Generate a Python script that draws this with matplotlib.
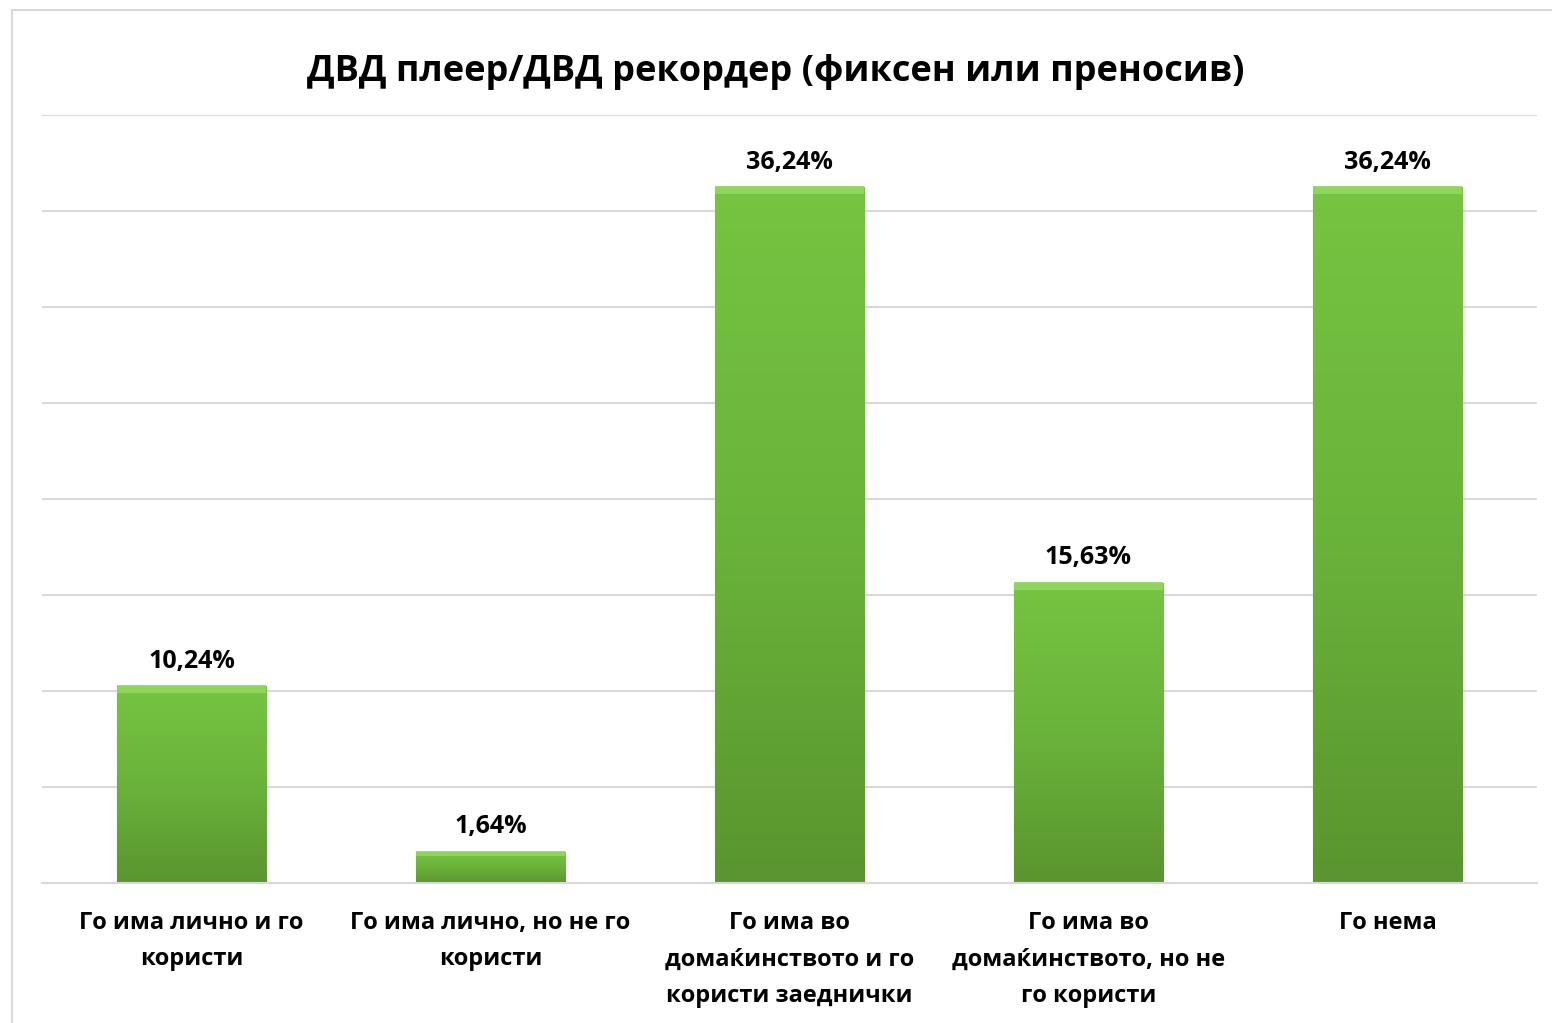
import matplotlib
matplotlib.use("Agg")
import matplotlib.pyplot as plt
import numpy as np
from matplotlib.patches import Rectangle
from matplotlib.lines import Line2D
from matplotlib.colors import LinearSegmentedColormap

plt.rcParams['font.family'] = ['Open Sans', 'DejaVu Sans']

title = "ДВД плеер/ДВД рекордер (фиксен или преносив)"
categories = ["Го има лично и го\nкористи",
              "Го има лично, но не го\nкористи",
              "Го има во\nдомаќинството и го\nкористи заеднички",
              "Го има во\nдомаќинството, но не\nго користи",
              "Го нема"]
values = [10.24, 1.64, 36.24, 15.63, 36.24]
labels = ["10,24%", "1,64%", "36,24%", "15,63%", "36,24%"]

fig = plt.figure(figsize=(15.52, 10.23), dpi=100)
bx, by = 11.5 / 1552, 1 - 9.5 / 1023
fig.lines.append(Line2D([bx, bx], [0, by], transform=fig.transFigure, color='#D9D9D9', linewidth=1.5))
fig.lines.append(Line2D([bx, 1], [by, by], transform=fig.transFigure, color='#D9D9D9', linewidth=1.5))

ax = fig.add_axes([42/1552, 1 - 883/1023, (1537 - 42)/1552, (883 - 115)/1023])
ax.set_ylim(0, 40)
ax.set_xlim(-0.5, len(values) - 0.5)
ax.set_yticks(np.arange(0, 41, 5))
ax.yaxis.grid(True, color='#D9D9D9', linewidth=1.5)
ax.set_axisbelow(True)
ax.tick_params(axis='y', length=0, labelleft=False)
ax.tick_params(axis='x', length=0, pad=20)
for s in ['top', 'right', 'left']:
    ax.spines[s].set_visible(False)
ax.spines['bottom'].set_color('#D9D9D9')
ax.spines['bottom'].set_linewidth(1.5)

cmap = LinearSegmentedColormap.from_list('g', ['#5A952F', '#6AB33A', '#76C442'])
grad = np.linspace(0, 1, 256).reshape(-1, 1)
x = np.arange(len(values))
w = 0.5
bars = ax.bar(x, values, width=w, color='#6AB33A', edgecolor='#4E8A2A', linewidth=0.8, zorder=2)
for b, v in zip(bars, values):
    x0 = b.get_x()
    im = ax.imshow(grad, extent=[x0, x0 + w, 0, v], origin='lower', cmap=cmap,
                   aspect='auto', zorder=2.5)
    im.set_clip_path(b)
    ax.add_patch(Rectangle((x0, v - min(0.35, v * 0.15)), w, min(0.35, v * 0.15),
                           facecolor='#9BDD6A', edgecolor='none', alpha=0.7, zorder=2.6))
    ax.add_patch(Rectangle((x0, v), w, 0, edgecolor='#8FD45E', linewidth=1.2, zorder=2.7))
ax.set_xlim(-0.5, len(values) - 0.5)
ax.set_ylim(0, 40)

for xi, v, l in zip(x, values, labels):
    ax.annotate(l, (xi, v), xytext=(0, 9), textcoords='offset points', ha='center', va='bottom',
                fontsize=18, fontweight='bold', color='#000000')

ax.set_xticks(x)
ax.set_xticklabels(categories, fontsize=17, fontweight='bold', linespacing=1.7, va='top')

fig.text(0.5, 1 - 72/1023, title, ha='center', va='center', fontsize=26, fontweight='bold')

fig.savefig('out.png', dpi=100)
